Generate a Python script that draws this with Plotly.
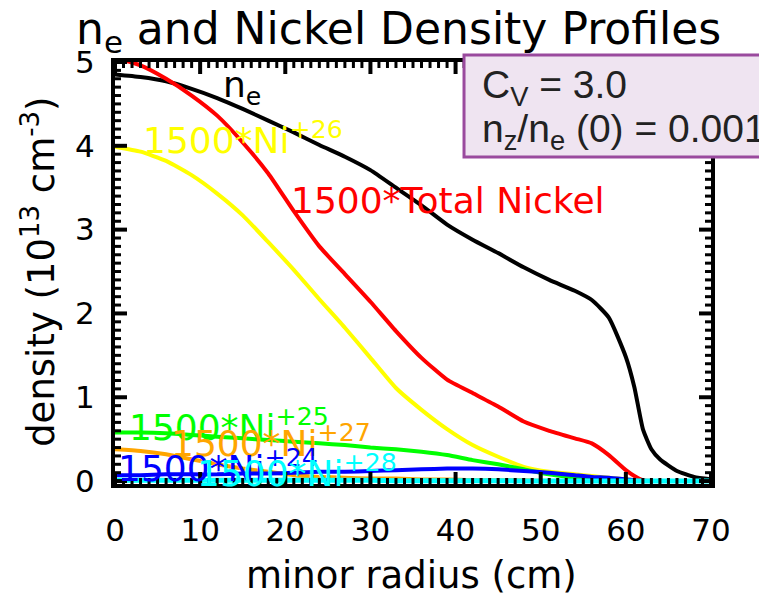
import plotly.graph_objects as go

# minor radius grid (cm)
radius = [0, 3, 6, 9, 12, 15, 18, 21, 24, 27, 30, 33, 36, 39, 42, 45, 48,
          51, 54, 56, 58, 60, 61, 62, 63, 64, 66, 68, 70]

# electron density (1e13 cm^-3)
n_e = [4.85, 4.82, 4.77, 4.68, 4.57, 4.44, 4.30, 4.16, 4.01, 3.87, 3.71, 3.50,
       3.29, 3.06, 2.88, 2.72, 2.55, 2.40, 2.27, 2.16, 1.95, 1.48, 1.12, 0.62,
       0.38, 0.26, 0.12, 0.05, 0.02]

# nickel densities, scaled by 1500
ni_total = [5.05, 4.96, 4.80, 4.60, 4.36, 4.04, 3.67, 3.22, 2.80, 2.47, 2.14,
            1.79, 1.47, 1.21, 1.05, 0.89, 0.71, 0.60, 0.51, 0.45, 0.31, 0.13,
            0.06, 0.01, 0, 0, 0, 0, 0]
ni_26 = [3.99, 3.93, 3.82, 3.65, 3.43, 3.17, 2.85, 2.52, 2.17, 1.83, 1.47, 1.11,
         0.85, 0.62, 0.43, 0.29, 0.17, 0.11, 0.08, 0.06, 0.04, 0.02, 0.01, 0,
         0, 0, 0, 0, 0]
ni_25 = [0.58, 0.58, 0.57, 0.55, 0.53, 0.51, 0.49, 0.47, 0.45, 0.43, 0.40, 0.38,
         0.35, 0.31, 0.25, 0.20, 0.14, 0.08, 0.04, 0.02, 0.01, 0, 0, 0, 0, 0,
         0, 0, 0]
ni_27 = [0.38, 0.36, 0.32, 0.26, 0.20, 0.15, 0.11, 0.07, 0.05, 0.04, 0.03, 0.03,
         0.02, 0.02, 0.01, 0.01, 0.01, 0, 0, 0, 0, 0, 0, 0, 0, 0, 0, 0, 0]
ni_24 = [0.07, 0.07, 0.08, 0.08, 0.08, 0.09, 0.09, 0.10, 0.11, 0.11, 0.12, 0.13,
         0.14, 0.15, 0.15, 0.14, 0.12, 0.10, 0.07, 0.05, 0.04, 0.02, 0.01, 0,
         0, 0, 0, 0, 0]
ni_28 = [0.01, 0.01, 0.01, 0.01, 0.01, 0.01, 0.01, 0.01, 0.01, 0.01, 0.01, 0.005,
         0.005, 0.005, 0.005, 0.005, 0, 0, 0, 0, 0, 0, 0, 0, 0, 0, 0, 0, 0]

# axis ticks
x_major = [0, 10, 20, 30, 40, 50, 60, 70]
y_major = [0, 1, 2, 3, 4, 5]
x_minor = list(range(0, 71))
y_minor = [i / 10 for i in range(0, 51)]

X_RANGE = [0, 70]
Y_RANGE = [-0.035, 5.0]
FONT = "DejaVu Sans"
W, H = 759, 594
MARGIN = dict(l=115, r=48, t=62, b=110)
PLOT_W = W - MARGIN["l"] - MARGIN["r"]
PLOT_H = H - MARGIN["t"] - MARGIN["b"]

series = [
    (n_e, "black", 4),
    (ni_total, "#ff0000", 4),
    (ni_26, "#ffff00", 4),
    (ni_25, "#00ff00", 4),
    (ni_27, "#ffa500", 4),
    (ni_24, "#0000ff", 4),
    (ni_28, "#00ffff", 5),
]

fig = go.Figure()
for vals, col, w in series:
    fig.add_trace(go.Scatter(x=radius, y=vals, mode="lines",
                             line=dict(color=col, width=w, shape="spline",
                                       smoothing=0.5),
                             showlegend=False, hoverinfo="skip"))


# inward tick marks on all four sides of the frame
def add_ticks(values, majors, axis):
    for v in values:
        major = v in majors
        length = 12 if major else 6
        width = 4 if major else 3
        if axis == "x":
            d = length / PLOT_H
            for y0, y1 in ((0, d), (1, 1 - d)):
                fig.add_shape(type="line", xref="x", yref="paper",
                              x0=v, x1=v, y0=y0, y1=y1, layer="above",
                              line=dict(color="black", width=width))
        else:
            d = length / PLOT_W
            for x0, x1 in ((0, d), (1, 1 - d)):
                fig.add_shape(type="line", xref="paper", yref="y",
                              x0=x0, x1=x1, y0=v, y1=v, layer="above",
                              line=dict(color="black", width=width))


add_ticks(x_minor, x_major, "x")
add_ticks(y_minor, y_major, "y")

# curve labels: (text, x, y, colour)
labels = [
    ("n<sub>e</sub>", 12.4, 4.69, "black"),
    ("1500*Ni<sup>+26</sup>", 3.0, 4.09, "#ffff00"),
    ("1500*Total Nickel", 20.4, 3.35, "#ff0000"),
    ("1500*Ni<sup>+25</sup>", 1.4, 0.67, "#00ff00"),
    ("1500*Ni<sup>+27</sup>", 6.3, 0.475, "#ffa500"),
    ("1500*Ni<sup>+24</sup>", 0.1, 0.18, "#0000ff"),
    ("1500*Ni<sup>+28</sup>", 9.4, 0.12, "#00ffff"),
]
for text, lx, ly, col in labels:
    fig.add_annotation(x=lx, y=ly, xref="x", yref="y", text=text,
                       showarrow=False, xanchor="left", yanchor="middle",
                       font=dict(family=FONT, size=36, color=col))

# parameter box in the upper right
fig.add_shape(type="rect", xref="paper", yref="paper",
              x0=0.5856, x1=1.2, y0=0.775, y1=1.0166,
              line=dict(color="#9a4a9e", width=3), fillcolor="#efe4f1",
              layer="above")
fig.add_annotation(xref="paper", yref="paper", x=0.612, y=0.94,
                   xanchor="left", yanchor="middle", showarrow=False,
                   text="C<sub>V</sub> = 3.0",
                   font=dict(family="Liberation Sans", size=39, color="#222222"))
fig.add_annotation(xref="paper", yref="paper", x=0.612, y=0.835,
                   xanchor="left", yanchor="middle", showarrow=False,
                   text="n<sub>z</sub>/n<sub>e</sub> (0) = 0.0013",
                   font=dict(family="Liberation Sans", size=39, color="#222222"))

# title and axis titles
fig.add_annotation(xref="paper", yref="paper", x=-0.068, y=1.0,
                   xanchor="left", yanchor="bottom", showarrow=False,
                   text="n<sub>e</sub> and Nickel Density Profiles",
                   font=dict(family=FONT, size=44, color="black"))
fig.add_annotation(xref="paper", yref="paper", x=0.498, y=-0.216,
                   xanchor="center", yanchor="middle", showarrow=False,
                   text="minor radius (cm)",
                   font=dict(family=FONT, size=37, color="black"))
fig.add_annotation(xref="paper", yref="paper", x=-0.128, y=0.502,
                   xanchor="center", yanchor="middle", showarrow=False,
                   textangle=-90,
                   text="density (10<sup>13</sup> cm<sup>-3</sup>)",
                   font=dict(family=FONT, size=37, color="black"))

# axes: thick frame and tick labels; transparent outside ticks set the
# gap between frame and labels
fig.update_layout(
    xaxis=dict(range=X_RANGE, tickvals=x_major, showgrid=False,
               zeroline=False, showline=True, linecolor="black",
               linewidth=4, mirror=True, ticks="outside", ticklen=16,
               tickcolor="rgba(0,0,0,0)",
               tickfont=dict(family=FONT, size=31, color="black")),
    yaxis=dict(range=Y_RANGE, tickvals=y_major, showgrid=False,
               zeroline=False, showline=True, linecolor="black",
               linewidth=4, mirror=True, ticks="outside", ticklen=10,
               tickcolor="rgba(0,0,0,0)",
               tickfont=dict(family=FONT, size=31, color="black")),
)

fig.update_layout(width=W, height=H, margin=MARGIN,
                  paper_bgcolor="white", plot_bgcolor="white")

fig.write_html("out.html")
